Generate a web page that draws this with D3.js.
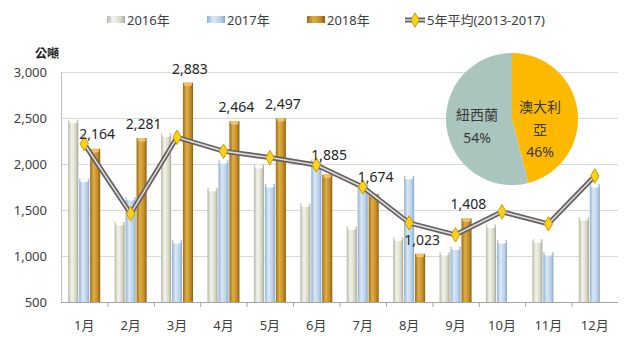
<!DOCTYPE html>
<html><head><meta charset="utf-8">
<script src="https://cdn.jsdelivr.net/npm/d3@7"></script>
<style>
body{margin:0;background:#fff;}
svg{display:block;font-family:"Noto Sans","Noto Sans CJK TC",sans-serif;}
</style></head>
<body><svg id="c" width="630" height="337"></svg>
<script>
const months = ["1月","2月","3月","4月","5月","6月","7月","8月","9月","10月","11月","12月"];
const seriesNames = ["2016年","2017年","2018年"];
const v2016 = [2480,1370,2330,1740,1990,1570,1320,1200,1040,1340,1180,1420];
const v2017 = [1840,1640,1170,2040,1780,2050,1780,1870,1100,1170,1040,1780];
const v2018 = [2164,2281,2883,2464,2497,1885,1674,1023,1408,null,null,null];
const avgName = "5年平均(2013-2017)";
const avg5 = [2220,1460,2290,2140,2070,1990,1750,1360,1230,1480,1350,1870];
const yTicks = [500,1000,1500,2000,2500,3000];
const unitLabel = "公噸";
const pieLabels = ["澳大利亞","紐西蘭"];
const pieValues = [46,54];

const svg = d3.select("#c");
const M = {l:61, r:618, t:72, b:302};
const x0 = d3.scaleBand().domain(months).range([M.l, M.r]);
const x1 = d3.scaleBand().domain(seriesNames).range([0, 32]).paddingInner(0.08);
const y = d3.scaleLinear().domain([500,3000]).range([M.b, M.t]);

const defs = svg.append("defs");
const cols = {
  "2016年": ["#b9b9a6","#f4f4ec","#d8d8c6","#a7a795"],
  "2017年": ["#93b2d2","#dbe8f6","#b8d0ea","#8aa8c8"],
  "2018年": ["#9a6c14","#e0ae48","#c28c26","#8a5e10"]
};
seriesNames.forEach((s,i)=>{
  const g = defs.append("linearGradient").attr("id","g"+i).attr("x1","0").attr("x2","1").attr("y1","0").attr("y2","0");
  const c = cols[s];
  g.append("stop").attr("offset","0").attr("stop-color",c[0]);
  g.append("stop").attr("offset","0.35").attr("stop-color",c[1]);
  g.append("stop").attr("offset","0.75").attr("stop-color",c[2]);
  g.append("stop").attr("offset","1").attr("stop-color",c[3]);
});

// gridlines
svg.append("g").selectAll("line").data(yTicks).join("line")
  .attr("x1",M.l).attr("x2",M.r).attr("y1",d=>y(d)+0.5).attr("y2",d=>y(d)+0.5)
  .attr("stroke",d=>d===500?"#a6a6a6":"#d9d9d9").attr("stroke-width",1);
svg.append("line").attr("x1",M.l+0.5).attr("x2",M.l+0.5).attr("y1",M.t).attr("y2",M.b)
  .attr("stroke","#bfbfbf");

// y tick labels
svg.append("g").selectAll("text").data(yTicks).join("text")
  .attr("x",47).attr("y",d=>y(d)).attr("dy","0.35em").attr("text-anchor","end")
  .attr("font-size",13).attr("fill","#404040").text(d=>d3.format(",")(d));
svg.append("text").attr("x",35).attr("y",58).attr("font-size",12).attr("font-weight","bold")
  .attr("fill","#222").text(unitLabel);

// x axis ticks & labels
svg.append("g").selectAll("line").data(months.slice(1)).join("line")
  .attr("x1",d=>x0(d)+0.5).attr("x2",d=>x0(d)+0.5).attr("y1",M.b).attr("y2",M.b+5)
  .attr("stroke","#a6a6a6");
svg.append("g").selectAll("text").data(months).join("text")
  .attr("x",d=>x0(d)+x0.bandwidth()/2).attr("y",330).attr("text-anchor","middle")
  .attr("font-size",13).attr("fill","#404040").text(d=>d);

// bars
const allVals = [v2016,v2017,v2018];
const bw = x1.bandwidth();
seriesNames.forEach((s,i)=>{
  const data = allVals[i].map((v,j)=>({m:months[j],v})).filter(d=>d.v!=null);
  const g = svg.append("g");
  const bx = d=>x0(d.m)+x0.bandwidth()/2-16+x1(s);
  g.selectAll("rect").data(data).join("rect")
    .attr("x",bx).attr("y",d=>y(d.v)).attr("width",bw).attr("height",d=>M.b-y(d.v))
    .attr("fill","url(#g"+i+")");
  g.selectAll("ellipse").data(data).join("ellipse")
    .attr("cx",d=>bx(d)+bw/2).attr("cy",d=>y(d.v)+1.5).attr("rx",bw/2-1).attr("ry",2)
    .attr("fill",i===2?"#eec46a":"#ffffff").attr("opacity",0.95);
});

// average line
const lineGen = d3.line().x((d,j)=>x0(months[j])+x0.bandwidth()/2).y(d=>y(d));
svg.append("path").attr("d",lineGen(avg5)).attr("fill","none").attr("stroke","#666060").attr("stroke-width",5).attr("stroke-linejoin","round");
svg.append("path").attr("d",lineGen(avg5)).attr("fill","none").attr("stroke","#dedada").attr("stroke-width",1.6).attr("stroke-linejoin","round");
const dia = d3.symbol().type(d3.symbolDiamond).size(60);
svg.append("g").selectAll("path").data(avg5).join("path")
  .attr("d",dia).attr("transform",(d,j)=>`translate(${x0(months[j])+x0.bandwidth()/2},${y(d)})`)
  .attr("fill","#ffd21a").attr("stroke","#c89a00").attr("stroke-width",1);

// 2018 labels (lifted above the average marker when they would collide)
const labData = v2018.map((v,j)=>({m:months[j],v,a:avg5[j]})).filter(d=>d.v!=null);
svg.append("g").selectAll("text").data(labData).join("text")
  .attr("x",d=>x0(d.m)+x0.bandwidth()/2-16+x1("2018年")+bw/2+2)
  .attr("y",d=>{
    const top = y(d.v), ay = y(d.a);
    return Math.abs(ay-top)<25 ? Math.min(top-9, ay-5) : top-9;
  })
  .attr("text-anchor","middle").attr("font-size",14).attr("fill","#262626")
  .text(d=>d3.format(",")(d.v));

// pie
const pie = d3.pie().sort(null).value(d=>d)(pieValues);
const arc = d3.arc().innerRadius(0).outerRadius(66);
const pg = svg.append("g").attr("transform","translate(512,119)");
const pieCols = ["#fcb900","#a9c5bd"];
pg.selectAll("path").data(pie).join("path").attr("d",arc).attr("fill",(d,i)=>pieCols[i]);
const aus = pg.append("text").attr("text-anchor","middle").attr("font-size",14).attr("fill","#3a3a3a");
aus.append("tspan").attr("x",28).attr("y",-7).text(pieLabels[0].slice(0,3));
aus.append("tspan").attr("x",28).attr("y",16).text(pieLabels[0].slice(3));
aus.append("tspan").attr("x",28).attr("y",38).text(pieValues[0]+"%");
const nz = pg.append("text").attr("text-anchor","middle").attr("font-size",14).attr("fill","#3a3a3a");
nz.append("tspan").attr("x",-35).attr("y",1).text(pieLabels[1]);
nz.append("tspan").attr("x",-35).attr("y",24).text(pieValues[1]+"%");

// legend
const leg = svg.append("g");
const legX = [107,207,307];
seriesNames.forEach((s,i)=>{
  leg.append("rect").attr("x",legX[i]).attr("y",16).attr("width",18).attr("height",7).attr("fill","url(#g"+i+")");
  leg.append("text").attr("x",legX[i]+20).attr("y",20).attr("dy","0.35em").attr("font-size",13).attr("fill","#404040").text(s);
});
leg.append("line").attr("x1",405).attr("x2",425).attr("y1",20).attr("y2",20).attr("stroke","#666060").attr("stroke-width",5);
leg.append("line").attr("x1",405).attr("x2",425).attr("y1",20).attr("y2",20).attr("stroke","#dedada").attr("stroke-width",1.6);
leg.append("path").attr("d",dia).attr("transform","translate(415,20)").attr("fill","#ffd21a").attr("stroke","#c89a00");
leg.append("text").attr("x",427).attr("y",20).attr("dy","0.35em").attr("font-size",13).attr("fill","#404040").text(avgName);
</script></body></html>
